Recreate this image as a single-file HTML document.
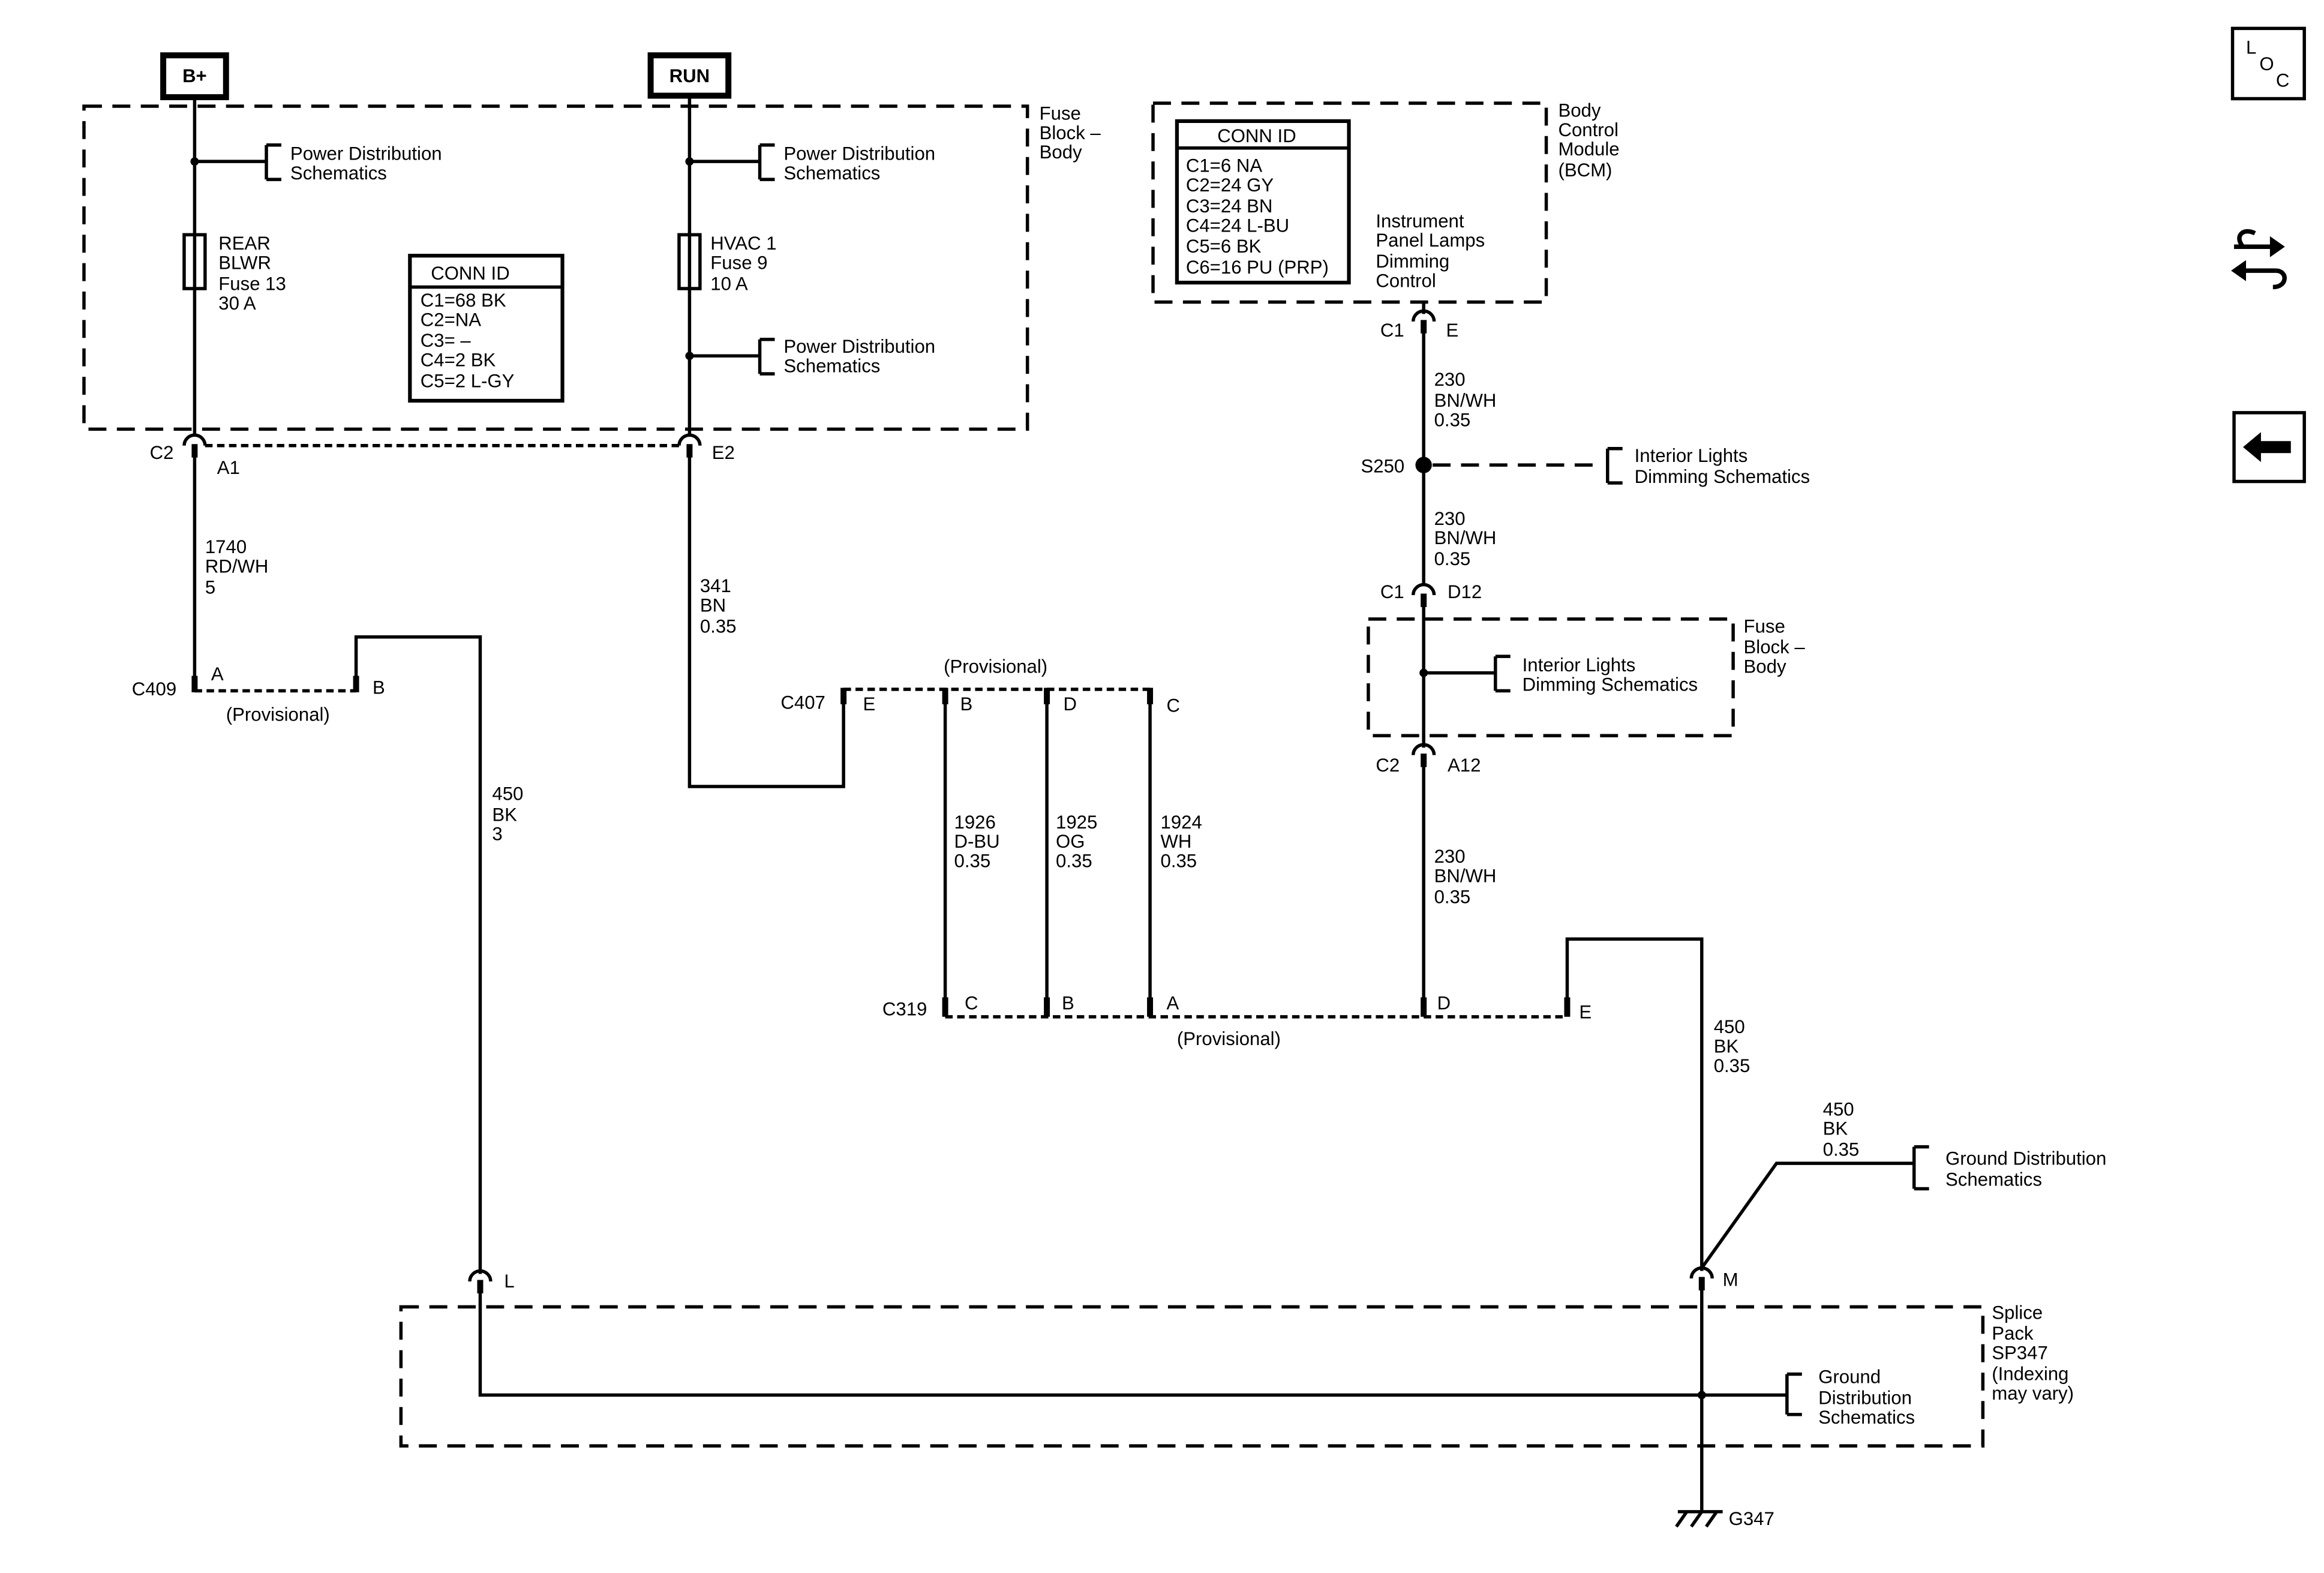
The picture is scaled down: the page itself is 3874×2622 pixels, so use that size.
<!DOCTYPE html>
<html><head><meta charset="utf-8"><style>
html,body{margin:0;padding:0;background:#fff;}
svg{display:block;}
text{font-family:"Liberation Sans",Arial,sans-serif;font-size:12.5px;fill:#000;}
</style></head><body>
<svg width="3874" height="2622" viewBox="0 0 1554 1052" xmlns="http://www.w3.org/2000/svg">
<defs>
<g id="cn"><path d="M-7,6 A7,7 0 0 1 7,6" fill="none" stroke="#000" stroke-width="2.2"/><rect x="-2" y="5" width="4" height="9" fill="#000"/></g>
</defs>
<g fill="none" stroke="#000" stroke-width="2.2">
<rect x="109" y="37" width="42" height="28" stroke-width="4"/>
<rect x="435" y="37" width="52" height="27" stroke-width="4"/>
<rect x="56" y="71" width="631" height="216" stroke-dasharray="12,7"/>
<rect x="771" y="69" width="263" height="133" stroke-dasharray="12,7"/>
<rect x="915" y="414" width="244" height="78" stroke-dasharray="12,7"/>
<rect x="268" y="874" width="1058" height="93" stroke-dasharray="12,7"/>

<path d="M130,66 V292"/>
<path d="M130,108 H178 M178,97 V120 M178,97 H188 M178,120 H188"/>
<rect x="123" y="157" width="14" height="36"/>
<path d="M461,64 V292"/>
<path d="M461,108 H508 M508,97 V120 M508,97 H518 M508,120 H518"/>
<path d="M461,238 H508 M508,227 V250 M508,227 H518 M508,250 H518"/>
<rect x="454" y="157" width="14" height="36"/>
<rect x="274" y="171" width="102" height="97" stroke-width="2.5"/>
<path d="M274,192 H376"/>
<rect x="787" y="81" width="115" height="108" stroke-width="2.5"/>
<path d="M787,99 H902"/>
<path d="M137,298 H454" stroke-dasharray="5,3"/>
<path d="M130,305 V455"/>
<path d="M130,462 H238" stroke-dasharray="5,3"/>
<path d="M238,455 V426 H321 V852"/>
<path d="M461,305 V526 H564 V465"/>
<path d="M564,461 H769" stroke-dasharray="5,3"/>
<path d="M632,465 V675 M700,465 V675 M769,465 V675"/>
<path d="M632,680 H1048" stroke-dasharray="5,3"/>
<path d="M952,202 V210 M952,222 V392"/>
<path d="M958,311 H1068" stroke-dasharray="12,7"/>
<path d="M1075,300 V323 M1075,300 H1085 M1075,323 H1085"/>
<path d="M952,405 V500 M952,450 H1000 M1000,439 V462 M1000,439 H1010 M1000,462 H1010"/>
<path d="M952,512 V675"/>
<path d="M1048,672 V628 H1138 V850"/>
<path d="M1138,848 L1188,778 H1280 M1280,767 V795 M1280,767 H1290 M1280,795 H1290"/>
<path d="M321,862 V933 H1138 M1138,862 V1010 M1138,933 H1195 M1195,919 V946 M1195,919 H1205 M1195,946 H1205"/>
<path d="M1122,1011 H1152 M1128,1011 L1121,1021 M1138,1011 L1131,1021 M1148,1011 L1141,1021"/>
<rect x="1493" y="19" width="48" height="47"/>
<rect x="1494" y="276" width="47" height="46"/>
</g>
<use href="#cn" x="130" y="292"/>
<use href="#cn" x="461" y="292"/>
<use href="#cn" x="952" y="209"/>
<use href="#cn" x="952" y="392"/>
<use href="#cn" x="952" y="499"/>
<use href="#cn" x="321" y="851"/>
<use href="#cn" x="1138" y="849"/>
<g fill="#000">
<rect x="128" y="452" width="4" height="11"/>
<rect x="236" y="452" width="4" height="11"/>
<rect x="562" y="460" width="4" height="11"/>
<rect x="630" y="460" width="4" height="11"/>
<rect x="698" y="460" width="4" height="11"/>
<rect x="767" y="460" width="4" height="11"/>
<rect x="630" y="667" width="4" height="13"/>
<rect x="698" y="667" width="4" height="13"/>
<rect x="767" y="667" width="4" height="13"/>
<rect x="950" y="667" width="4" height="13"/>
<rect x="1046" y="667" width="4" height="13"/>
<circle cx="130" cy="108" r="2.8"/><circle cx="461" cy="108" r="2.8"/><circle cx="461" cy="238" r="2.8"/>
<circle cx="952" cy="311" r="5.5"/><circle cx="952" cy="450" r="2.8"/><circle cx="1138" cy="933" r="2.8"/>
<path d="M1500,299 L1512,289 V295 H1532 V303 H1512 V309 Z"/>
<path d="M1518,158 L1528,165 L1518,172 Z"/>
<path d="M1502,174 L1492,181 L1502,188 Z"/>
</g>
<g stroke="#000" stroke-width="3" fill="none">
<path d="M1494,165 H1520 M1500,181 H1522"/>
<path d="M1522,181 C1530,181 1530,192 1520,192 M1500,165 C1494,158 1500,152 1508,156"/>
</g>
<text x="1502" y="36" font-size="11">L</text><text x="1511" y="47" font-size="11">O</text><text x="1522" y="58" font-size="11">C</text>
<text x="130" y="55" text-anchor="middle" font-weight="bold" font-size="13">B+</text>
<text x="461" y="55" text-anchor="middle" font-weight="bold" font-size="13">RUN</text>
<text x="695" y="80">Fuse</text><text x="695" y="93">Block –</text><text x="695" y="106">Body</text>
<text x="194" y="107">Power Distribution</text><text x="194" y="120">Schematics</text>
<text x="524" y="107">Power Distribution</text><text x="524" y="120">Schematics</text>
<text x="524" y="236">Power Distribution</text><text x="524" y="249">Schematics</text>
<text x="146" y="167">REAR</text><text x="146" y="180">BLWR</text><text x="146" y="194">Fuse 13</text><text x="146" y="207">30 A</text>
<text x="475" y="167">HVAC 1</text><text x="475" y="180">Fuse 9</text><text x="475" y="194">10 A</text>
<text x="288" y="187">CONN ID</text>
<text x="281" y="205">C1=68 BK</text><text x="281" y="218">C2=NA</text><text x="281" y="232">C3= –</text><text x="281" y="245">C4=2 BK</text><text x="281" y="259">C5=2 L-GY</text>
<text x="100" y="307">C2</text><text x="145" y="317">A1</text><text x="476" y="307">E2</text>
<text x="137" y="370">1740</text><text x="137" y="383">RD/WH</text><text x="137" y="397">5</text>
<text x="88" y="465">C409</text><text x="141" y="455">A</text><text x="249" y="464">B</text><text x="151" y="482">(Provisional)</text>
<text x="329" y="535">450</text><text x="329" y="549">BK</text><text x="329" y="562">3</text>
<text x="468" y="396">341</text><text x="468" y="409">BN</text><text x="468" y="423">0.35</text>
<text x="631" y="450">(Provisional)</text>
<text x="522" y="474">C407</text><text x="577" y="475">E</text><text x="642" y="475">B</text><text x="711" y="475">D</text><text x="780" y="476">C</text>
<text x="638" y="554">1926</text><text x="638" y="567">D-BU</text><text x="638" y="580">0.35</text>
<text x="706" y="554">1925</text><text x="706" y="567">OG</text><text x="706" y="580">0.35</text>
<text x="776" y="554">1924</text><text x="776" y="567">WH</text><text x="776" y="580">0.35</text>
<text x="590" y="679">C319</text><text x="645" y="675">C</text><text x="710" y="675">B</text><text x="780" y="675">A</text><text x="961" y="675">D</text><text x="1056" y="681">E</text>
<text x="787" y="699">(Provisional)</text>
<text x="1042" y="78">Body</text><text x="1042" y="91">Control</text><text x="1042" y="104">Module</text><text x="1042" y="118">(BCM)</text>
<text x="814" y="95">CONN ID</text>
<text x="793" y="115">C1=6 NA</text><text x="793" y="128">C2=24 GY</text><text x="793" y="142">C3=24 BN</text><text x="793" y="155">C4=24 L-BU</text><text x="793" y="169">C5=6 BK</text><text x="793" y="183">C6=16 PU (PRP)</text>
<text x="920" y="152">Instrument</text><text x="920" y="165">Panel Lamps</text><text x="920" y="179">Dimming</text><text x="920" y="192">Control</text>
<text x="923" y="225">C1</text><text x="967" y="225">E</text>
<text x="959" y="258">230</text><text x="959" y="272">BN/WH</text><text x="959" y="285">0.35</text>
<text x="910" y="316">S250</text>
<text x="1093" y="309">Interior Lights</text><text x="1093" y="323">Dimming Schematics</text>
<text x="959" y="351">230</text><text x="959" y="364">BN/WH</text><text x="959" y="378">0.35</text>
<text x="923" y="400">C1</text><text x="968" y="400">D12</text>
<text x="1166" y="423">Fuse</text><text x="1166" y="437">Block –</text><text x="1166" y="450">Body</text>
<text x="1018" y="449">Interior Lights</text><text x="1018" y="462">Dimming Schematics</text>
<text x="920" y="516">C2</text><text x="968" y="516">A12</text>
<text x="959" y="577">230</text><text x="959" y="590">BN/WH</text><text x="959" y="604">0.35</text>
<text x="1146" y="691">450</text><text x="1146" y="704">BK</text><text x="1146" y="717">0.35</text>
<text x="1219" y="746">450</text><text x="1219" y="759">BK</text><text x="1219" y="773">0.35</text>
<text x="1301" y="779">Ground Distribution</text><text x="1301" y="793">Schematics</text>
<text x="337" y="861">L</text><text x="1152" y="860">M</text>
<text x="1332" y="882">Splice</text><text x="1332" y="896">Pack</text><text x="1332" y="909">SP347</text><text x="1332" y="923">(Indexing</text><text x="1332" y="936">may vary)</text>
<text x="1216" y="925">Ground</text><text x="1216" y="939">Distribution</text><text x="1216" y="952">Schematics</text>
<text x="1156" y="1020">G347</text>
</svg>
</body></html>
